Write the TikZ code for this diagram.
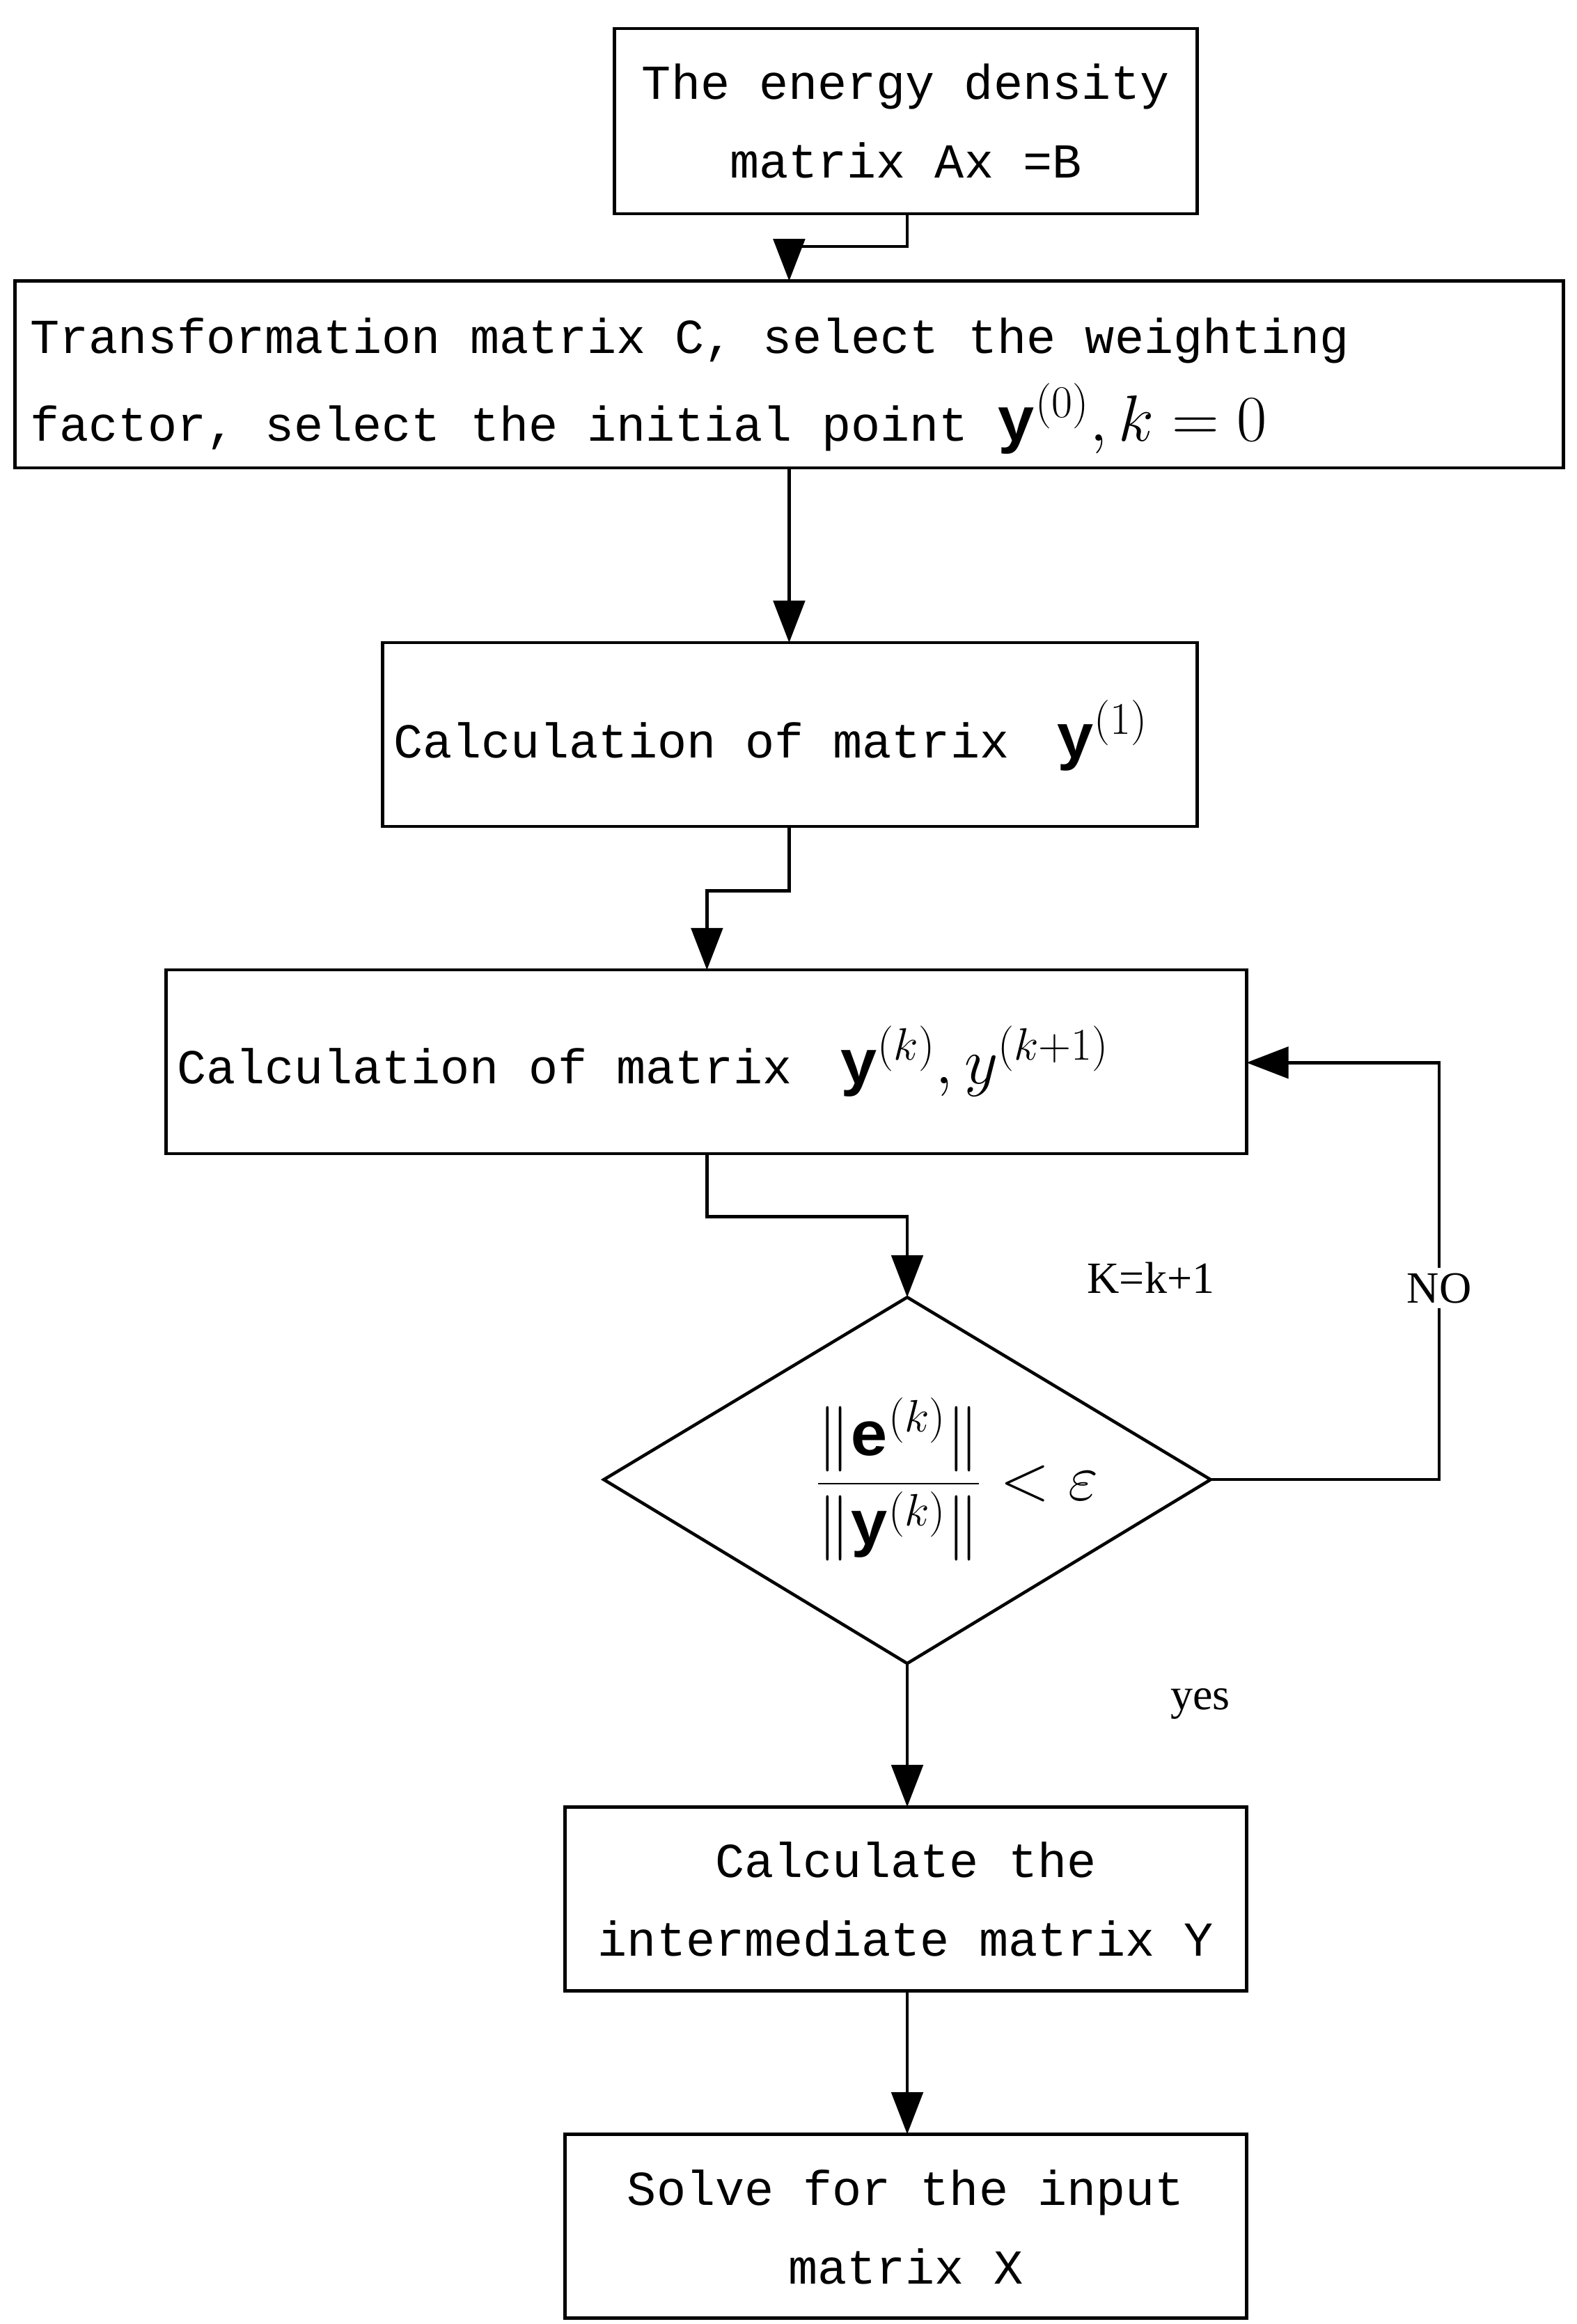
\documentclass[tikz,border=0pt]{standalone}
\usepackage{fontspec}
\setmainfont{Liberation Mono}
\newfontfamily\serifl{Liberation Serif}
\usetikzlibrary{arrows.meta}
\begin{document}
\begin{tikzpicture}[x=0.02cm,y=-0.02cm,
  box/.style={draw,line width=1.2pt,rectangle},
  arr/.style={line width=1.2pt,-{Triangle[length=16pt,width=12pt]}},
  lbl/.style={font=\fontsize{18.6}{24}\selectfont},
  every node/.style={inner sep=0pt}]
\useasboundingbox (0,0) rectangle (1055,1555);
\tikzset{mt/.style={font=\fontsize{18.6}{24}\selectfont}}
% boxes
\draw[box] (411,19) rectangle (801,143);
\node[mt,align=center] (b1) at (606,81) {The energy density\\[6pt]matrix Ax =B};
\draw[box] (10,188) rectangle (1046,313);
\node[mt,anchor=west] (b2a) at (20,228) {Transformation matrix C, select the weighting};
\node[mt,anchor=west] (b2b) at (20,280) {factor, select the initial point \fontsize{24}{28}\selectfont$\mathbf{y}^{(0)},k=0$};
\draw[box] (256,430) rectangle (801,553);
\node[mt,anchor=west] (b3) at (263,492) {Calculation of matrix \fontsize{24}{28}\selectfont$\;\mathbf{y}^{(1)}$};
\draw[box] (111,649) rectangle (834,772);
\node[mt,anchor=west] (b4) at (118,710) {Calculation of matrix \fontsize{24}{28}\selectfont$\;\mathbf{y}^{(k)},y^{(k+1)}$};
\draw[box] (404,990) -- (607,868) -- (810,990) -- (607,1113) -- cycle;
\node[font=\fontsize{24}{28}\selectfont] (d) at (640,990) {$\displaystyle\frac{\|\mathbf{e}^{(k)}\|}{\|\mathbf{y}^{(k)}\|}<\varepsilon$};
\draw[box] (378,1209) rectangle (834,1332);
\node[mt,align=center] (b5) at (606,1271) {Calculate the\\[6pt]intermediate matrix Y};
\draw[box] (378,1428) rectangle (834,1551);
\node[mt,align=center] (b6) at (606,1490) {Solve for the input\\[6pt]matrix X};
% connectors
\coordinate (c1) at (607,143);
\draw[arr] (c1) -- (607,165) -- (528,165) -- (528,188);
\draw[arr] (528,313) -- (528,430);
\draw[arr] (528,553) -- (528,596) -- (473,596) -- (473,649);
\draw[arr] (473,772) -- (473,814) -- (607,814) -- (607,868);
\draw[arr] (810,990) -- (963,990) -- (963,711) -- (834,711);
\draw[arr] (607,1113) -- (607,1209);
\draw[arr] (607,1332) -- (607,1428);
% labels
\node[font=\serifl\fontsize{17}{20}\selectfont] (k) at (770,855) {K=k+1};
\node[font=\serifl\fontsize{17}{20}\selectfont,fill=white,inner sep=2pt] (no) at (963,862) {NO};
\node[font=\serifl\fontsize{17}{20}\selectfont] (yes) at (803,1140) {yes};
\end{tikzpicture}
\end{document}
